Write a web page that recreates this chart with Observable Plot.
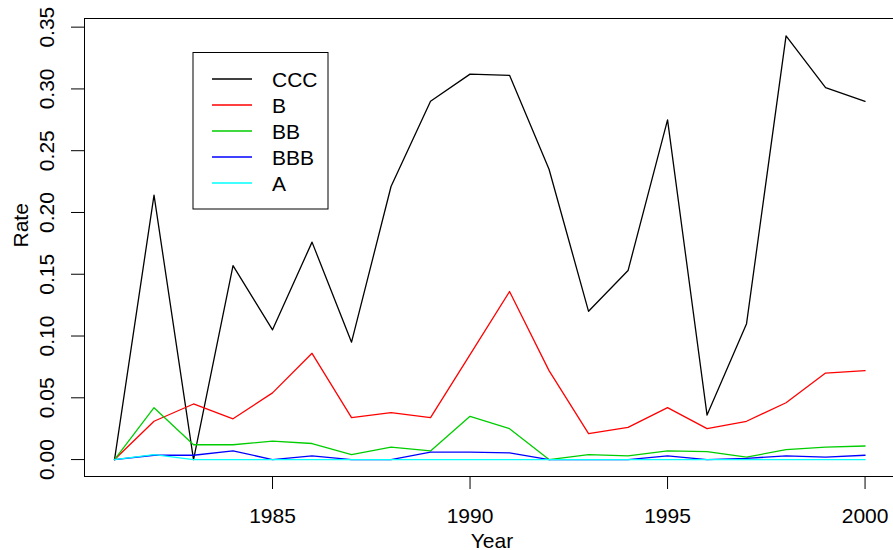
<!DOCTYPE html>
<html>
<head>
<meta charset="utf-8">
<script src="https://cdn.jsdelivr.net/npm/d3@7"></script>
<script src="https://cdn.jsdelivr.net/npm/@observablehq/plot@0.6"></script>
<style>
  html, body { margin: 0; padding: 0; background: white; overflow: hidden; }
  #chart svg { display: block; }
</style>
</head>
<body>
<div id="chart"></div>
<script>
// ---- data ----
const years = [1981,1982,1983,1984,1985,1986,1987,1988,1989,1990,1991,1992,1993,1994,1995,1996,1997,1998,1999,2000];
const ccc = [0.000,0.214,0.000,0.157,0.105,0.176,0.095,0.221,0.290,0.312,0.311,0.235,0.120,0.153,0.275,0.036,0.110,0.343,0.301,0.290];
const b   = [0.000,0.031,0.045,0.033,0.054,0.086,0.034,0.038,0.034,0.085,0.136,0.072,0.021,0.026,0.042,0.025,0.031,0.046,0.070,0.072];
const bb  = [0.000,0.042,0.012,0.012,0.015,0.013,0.004,0.010,0.007,0.035,0.025,0.000,0.004,0.003,0.007,0.0065,0.002,0.008,0.010,0.011];
const bbb = [0.000,0.0035,0.0035,0.007,0.000,0.003,0.000,0.000,0.006,0.006,0.0055,0.000,0.000,0.000,0.003,0.000,0.001,0.003,0.002,0.0035];
const a   = [0.000,0.004,0.000,0.000,0.000,0.000,0.000,0.000,0.000,0.000,0.000,0.000,0.000,0.000,0.000,0.000,0.000,0.000,0.000,0.000];
const seriesNames = ["CCC","B","BB","BBB","A"];
const seriesColors = ["#000000","#FF0000","#00CD00","#0000FF","#00FFFF"];
const xTicks = [1985,1990,1995,2000];
const yTicks = [0,0.05,0.10,0.15,0.20,0.25,0.30,0.35];
const xLabel = "Year";
const yLabel = "Rate";

const seriesValues = [ccc, b, bb, bbb, a];
const rows = [];
seriesNames.forEach((name, i) => {
  years.forEach((yr, j) => rows.push({series: name, year: yr, value: seriesValues[i][j]}));
});

const yMin = -0.0137, yMax = 0.357;
const xMin = 1980.24, xMax = 2000.72;
const FONT = "'Liberation Sans', Arial, Helvetica, sans-serif";

const chart = Plot.plot({
  width: 893,
  height: 550,
  marginLeft: 84,
  marginRight: 0,
  marginTop: 18,
  marginBottom: 74,
  style: {fontFamily: FONT, color: "black", background: "white"},
  x: {domain: [xMin, xMax]},
  y: {domain: [yMin, yMax]},
  color: {domain: seriesNames, range: seriesColors},
  marks: [
    Plot.axisX(xTicks, {tickSize: 13, tickPadding: 19, fontSize: 21, label: null, tickFormat: d => String(d), strokeWidth: 1}),
    Plot.axisY(yTicks, {tickSize: 13, tickPadding: 18, tickRotate: -90, fontSize: 21, label: null, tickFormat: d => d.toFixed(2), strokeWidth: 1}),
    Plot.ruleX([xMin], {stroke: "black", strokeWidth: 1}),
    Plot.ruleY([yMin, yMax], {stroke: "black", strokeWidth: 1}),
    Plot.line(rows, {x: "year", y: "value", z: "series", stroke: "series", strokeWidth: 1.3}),
    Plot.text([xLabel], {frameAnchor: "bottom", dy: 71, dx: 3, lineAnchor: "bottom", fontSize: 21}),
    Plot.text([yLabel], {frameAnchor: "left", dx: -57, rotate: -90, lineAnchor: "bottom", fontSize: 21})
  ]
});
document.getElementById("chart").appendChild(chart);

// ---- legend ----
const svg = d3.select(chart);
const lg = svg.append("g").attr("font-family", FONT).attr("font-size", 21).attr("text-anchor", "start");
lg.append("rect").attr("x", 193).attr("y", 52.5).attr("width", 135).attr("height", 156.5)
  .attr("fill", "white").attr("stroke", "black").attr("stroke-width", 1);
seriesNames.forEach((name, i) => {
  const y = 79 + i * 26;
  lg.append("line").attr("x1", 212).attr("x2", 252).attr("y1", y).attr("y2", y)
    .attr("stroke", seriesColors[i]).attr("stroke-width", 1.3);
  lg.append("text").attr("x", 272).attr("y", y).attr("dy", "0.36em")
    .attr("text-anchor", "start").attr("fill", "black").text(name);
});
</script>
</body>
</html>
